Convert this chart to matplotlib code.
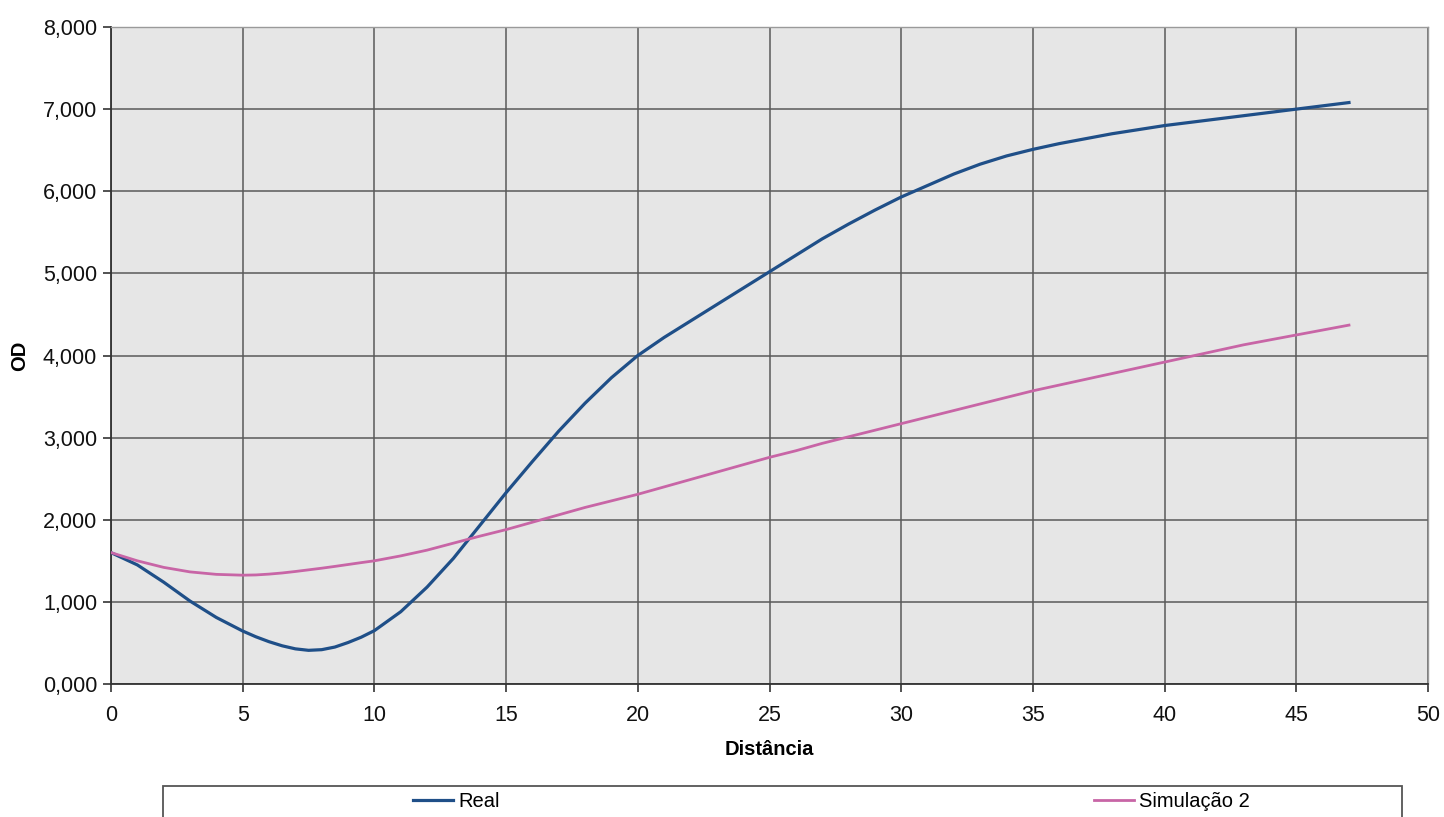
import matplotlib
matplotlib.use("Agg")
import matplotlib.pyplot as plt
from matplotlib.patches import Rectangle
from matplotlib.ticker import MultipleLocator, FuncFormatter

plt.rcParams["font.family"] = ["Liberation Sans", "DejaVu Sans"]

# distance (x) and OD values (half steps round the dip)
distancia = [0, 1, 2, 3, 4, 5, 5.5, 6, 6.5, 7, 7.5, 8, 8.5, 9, 9.5, 10,
             11, 12, 13, 14, 15, 16, 17, 18, 19, 20, 21, 22, 23, 24, 25, 26, 27, 28, 29,
             30, 31, 32, 33, 34, 35, 36, 37, 38, 39, 40, 41, 42, 43, 44, 45, 46, 47]
real = [1.600, 1.450, 1.240, 1.010, 0.810, 0.645, 0.575, 0.515, 0.465, 0.428, 0.410,
        0.418, 0.450, 0.505, 0.570, 0.650,
        0.880, 1.180, 1.530, 1.930, 2.330, 2.710, 3.080, 3.420, 3.730,
        4.000, 4.220, 4.420, 4.620, 4.820, 5.020, 5.220, 5.420, 5.600, 5.770,
        5.930, 6.070, 6.210, 6.330, 6.430, 6.510, 6.580, 6.640, 6.700, 6.750,
        6.800, 6.840, 6.880, 6.920, 6.960, 7.000, 7.040, 7.080]
simulacao2 = [1.600, 1.500, 1.420, 1.365, 1.335, 1.325, 1.328, 1.338, 1.352, 1.370, 1.390,
              1.410, 1.432, 1.455, 1.478, 1.500,
              1.560, 1.630, 1.715, 1.800, 1.880, 1.970, 2.060, 2.150, 2.230,
              2.310, 2.400, 2.490, 2.580, 2.670, 2.760, 2.840, 2.930, 3.010, 3.090,
              3.170, 3.250, 3.330, 3.410, 3.490, 3.570, 3.640, 3.710, 3.780, 3.850,
              3.920, 3.990, 4.060, 4.130, 4.190, 4.250, 4.310, 4.370]

W, H = 1444, 817
fig = plt.figure(figsize=(W / 100, H / 100), dpi=100)
ax = fig.add_axes([111 / W, 1 - 684 / H, (1428 - 111) / W, (684 - 27) / H])
ax.set_facecolor("#e6e6e6")

l1, = ax.plot(distancia, real, color="#1f4f88", lw=2.3, label="Real", zorder=3,
              solid_joinstyle="round")
l2, = ax.plot(distancia, simulacao2, color="#c865a6", lw=2.0, label="Simulação 2", zorder=3,
              solid_joinstyle="round")

ax.set_xlim(0, 50)
ax.set_ylim(0, 8)
ax.xaxis.set_major_locator(MultipleLocator(5))
ax.yaxis.set_major_locator(MultipleLocator(1))
ax.yaxis.set_major_formatter(FuncFormatter(lambda v, _: f"{v:.3f}".replace(".", ",")))

ax.grid(True, color="#5a5a5a", lw=1.1, zorder=1)
ax.set_axisbelow(True)

for s in ["left", "bottom"]:
    ax.spines[s].set_color("#333333")
    ax.spines[s].set_linewidth(1.3)
for s in ["top", "right"]:
    ax.spines[s].set_color("#9a9a9a")
    ax.spines[s].set_linewidth(1.0)

ax.tick_params(axis="both", labelsize=15.5, length=6, width=1.2, color="#333333",
               direction="out", colors="#111111")
ax.tick_params(axis="x", pad=9)
ax.tick_params(axis="y", pad=4)

ax.set_xlabel("Distância", fontsize=14.5, fontweight="bold", labelpad=10)
ax.set_ylabel("OD", fontsize=14.5, fontweight="bold", labelpad=10)

# legend box runs off the bottom of the picture, as in the scan
fig.add_artist(Rectangle((163 / W, -0.05), (1402 - 163) / W, (1 - 786 / H) + 0.05,
                         transform=fig.transFigure, fill=False, ec="#555555", lw=1.3))
fig.legend(handles=[l1, l2], loc="upper left", bbox_to_anchor=(413 / W, 1 - 792 / H),
           ncol=2, frameon=False, fontsize=14.5, handlelength=2.0, handletextpad=0.25,
           columnspacing=29.5, borderpad=0, borderaxespad=0)

fig.savefig("out.png", dpi=100)
